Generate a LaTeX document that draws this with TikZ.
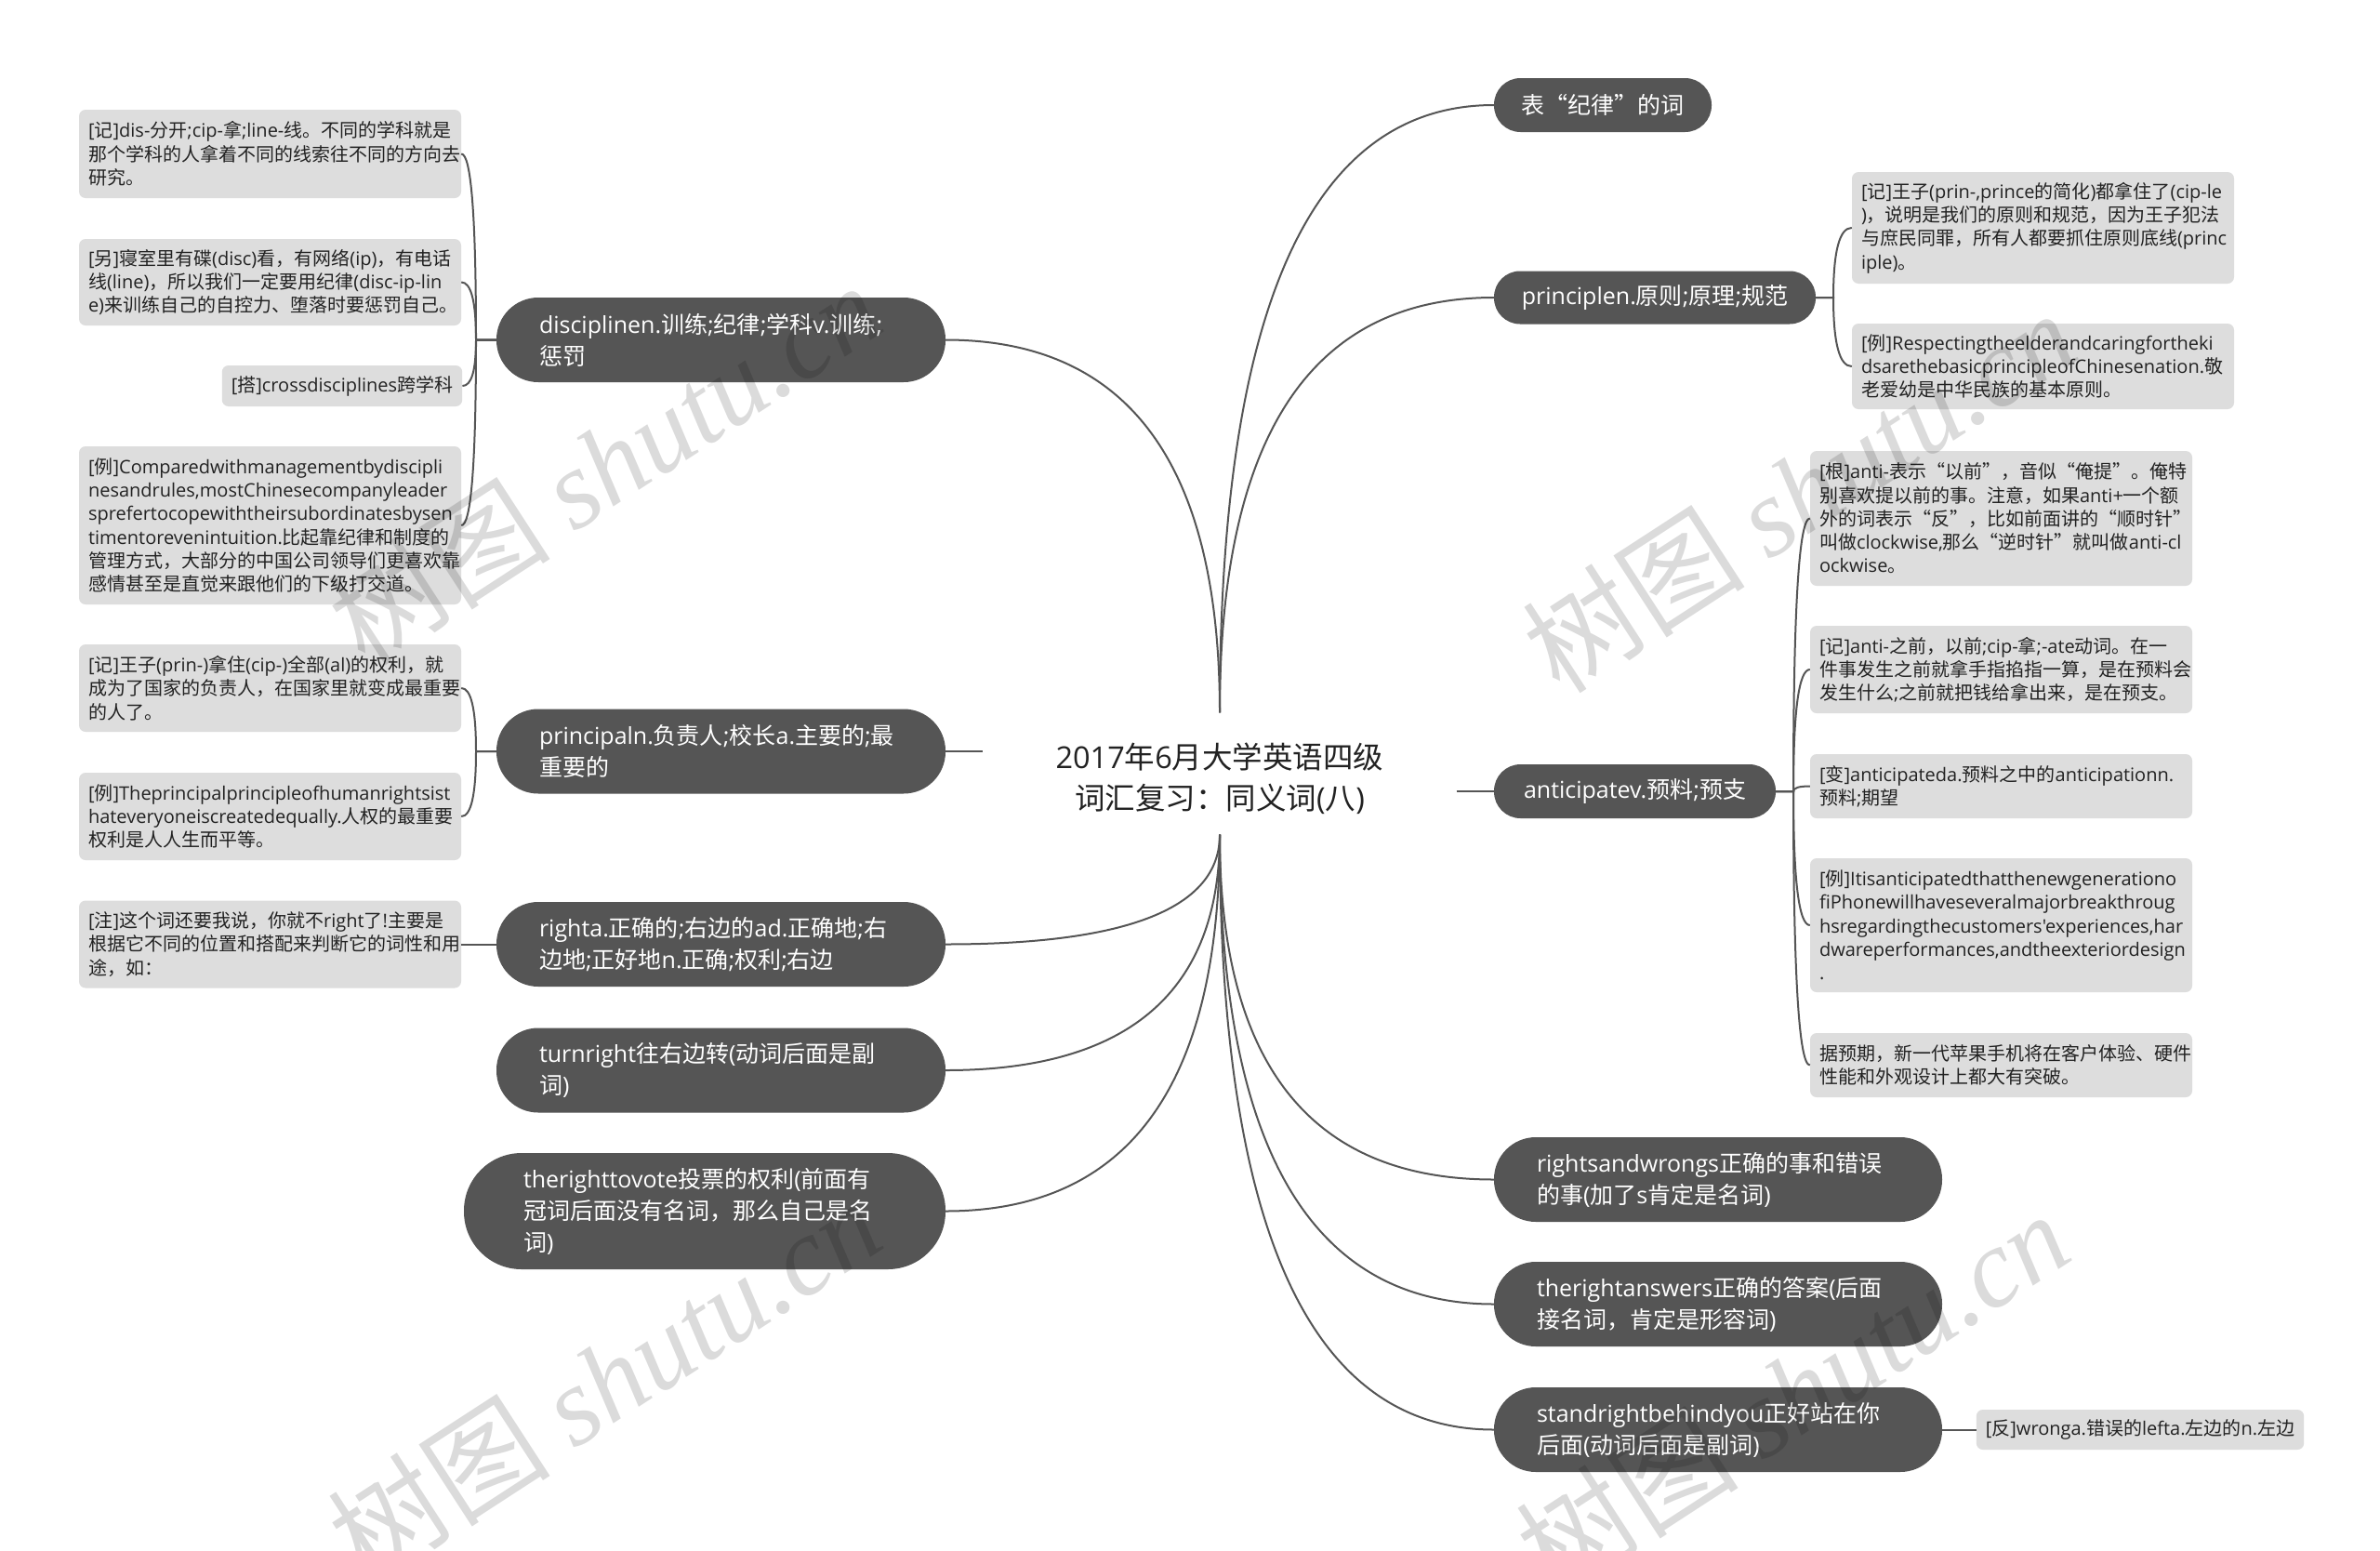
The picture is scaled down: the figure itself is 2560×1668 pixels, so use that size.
\documentclass[tikz,border=0pt]{standalone}
\usepackage{fontspec}
\setmainfont{Noto Sans CJK SC}
\newfontfamily\cjkf{Noto Sans CJK SC}
\newfontfamily\latf{Open Sans}
\newfontfamily\wmserif{Liberation Serif}
\usetikzlibrary{calc}
\newcount\cjkcnt
\cjkcnt="4E00
\loop\ifnum\cjkcnt<"A000 \XeTeXcharclass\cjkcnt=1 \advance\cjkcnt by 1 \repeat
\cjkcnt="3000
\loop\ifnum\cjkcnt<"3040 \XeTeXcharclass\cjkcnt=1 \advance\cjkcnt by 1 \repeat
\cjkcnt="FF00
\loop\ifnum\cjkcnt<"FFF0 \XeTeXcharclass\cjkcnt=1 \advance\cjkcnt by 1 \repeat
\XeTeXcharclass"201C=1
\XeTeXcharclass"201D=1
\XeTeXinterchartokenstate=1
\XeTeXinterchartoks 0 1 = {\cjkf}
\XeTeXinterchartoks 4095 1 = {\cjkf}
\XeTeXinterchartoks 1 0 = {\latf}
\XeTeXinterchartoks 4095 0 = {\latf}
\definecolor{pillc}{HTML}{555555}
\definecolor{notec}{HTML}{DDDDDD}
\definecolor{linec}{HTML}{555555}
\definecolor{txtc}{HTML}{222222}
\newcommand\qcurve[2]{\draw[conn] (#1) .. controls ($(#1)!0.6667!(#1 |- #2)$) and ($(#2)!0.6667!(#1 |- #2)$) .. (#2);}
\newcommand\brk[3]{\draw[conn] (#1) -- (#2 |- #1) .. controls ($(#2 |- #1)!0.6667!(#2 |- #3)$) and ($(#3)!0.6667!(#2 |- #3)$) .. (#3);}
\newcommand\wmtext{\XeTeXinterchartokenstate=0\relax\fontsize{120}{130}\selectfont{\cjkf 树图} {\wmserif\itshape shutu.cn}}
\tikzset{
  pill/.style={fill=pillc, text=white, font=\fontsize{25}{34}\selectfont, inner ysep=0pt},
  note/.style={fill=notec, text=txtc, rounded corners=7pt, font=\fontsize{20}{25.3}\selectfont, inner ysep=0pt, inner xsep=10pt},
  conn/.style={draw=linec, line width=2pt},
  title/.style={text=txtc, font=\fontsize{32.5}{44}\selectfont, inner sep=0pt},
  wm/.style={text=black, text opacity=0.14, inner sep=0pt, rotate=33}
}
\begin{document}
\begin{tikzpicture}[x=1pt,y=-1pt]
\useasboundingbox (0,0) rectangle (2560,1668);
\fill[white] (0,0) rectangle (2560,1668);

% centre
\node[title, minimum width=509pt, minimum height=131pt, align=center] (c) at (1312,832) {\parbox{509pt}{\centering\vspace*{10pt}2017年6月大学英语四级\\词汇复习：同义词(八)}};

% left main branches
\node[pill, text width=391pt, inner xsep=46pt, minimum height=91pt, rounded corners=45pt, align=left] (disc) at (775.5,365.5) {disciplinen.训练;纪律;学科v.训练;\\惩罚};
\node[pill, text width=391pt, inner xsep=46pt, minimum height=91pt, rounded corners=45pt, align=left] (principal) at (775.5,808) {principaln.负责人;校长a.主要的;最\\重要的};
\node[pill, text width=391pt, inner xsep=46pt, minimum height=91pt, rounded corners=45pt, align=left] (righta) at (775.5,1015.5) {righta.正确的;右边的ad.正确地;右\\边地;正好地n.正确;权利;右边};
\node[pill, text width=391pt, inner xsep=46pt, minimum height=91pt, rounded corners=45pt, align=left] (turnright) at (775.5,1151) {turnright往右边转(动词后面是副\\词)};
\node[pill, text width=390pt, inner xsep=64pt, minimum height=125pt, rounded corners=62pt, align=left] (trv) at (758,1302.5) {therighttovote投票的权利(前面有\\冠词后面没有名词，那么自己是名\\词)};

% right main branches
\node[pill, minimum width=234pt, minimum height=58pt, rounded corners=28.5pt, inner xsep=0pt, align=center] (j1) at (1724,113) {表“纪律”的词};
\node[pill, minimum width=346pt, minimum height=57pt, rounded corners=28pt, inner xsep=0pt, align=center] (pr) at (1780,320) {principlen.原则;原理;规范};
\node[pill, minimum width=303pt, minimum height=58pt, rounded corners=28.5pt, inner xsep=0pt, align=center] (an) at (1758.5,851) {anticipatev.预料;预支};
\node[pill, text width=390pt, inner xsep=46pt, minimum height=91pt, rounded corners=45pt, align=left] (rw) at (1848,1268.5) {rightsandwrongs正确的事和错误\\的事(加了s肯定是名词)};
\node[pill, text width=390pt, inner xsep=46pt, minimum height=91pt, rounded corners=45pt, align=left] (tra) at (1848,1402.5) {therightanswers正确的答案(后面\\接名词，肯定是形容词)};
\node[pill, text width=390pt, inner xsep=46pt, minimum height=91pt, rounded corners=45pt, align=left] (sr) at (1848,1537.5) {standrightbehindyou正好站在你\\后面(动词后面是副词)};

% left notes
\node[note, text width=391pt, minimum height=95pt, align=left] (d1) at (290.5,165.5) {[记]dis-分开;cip-拿;line-线。不同的学科就是\\那个学科的人拿着不同的线索往不同的方向去\\研究。};
\node[note, text width=391pt, minimum height=93pt, align=left] (d2) at (290.5,303.5) {[另]寝室里有碟(disc)看，有网络(ip)，有电话\\线(line)，所以我们一定要用纪律(disc-ip-lin\\e)来训练自己的自控力、堕落时要惩罚自己。};
\node[note, minimum width=256pt, minimum height=44pt, align=center] (d3) at (368,415) {[搭]crossdisciplines跨学科};
\node[note, text width=391pt, minimum height=170pt, align=left] (d4) at (290.5,565) {[例]Comparedwithmanagementbydiscipli\\nesandrules,mostChinesecompanyleader\\sprefertocopewiththeirsubordinatesbysen\\timentorevenintuition.比起靠纪律和制度的\\管理方式，大部分的中国公司领导们更喜欢靠\\感情甚至是直觉来跟他们的下级打交道。};
\node[note, text width=391pt, minimum height=94pt, align=left] (p1) at (290.5,740) {[记]王子(prin-)拿住(cip-)全部(al)的权利，就\\成为了国家的负责人，在国家里就变成最重要\\的人了。};
\node[note, text width=391pt, minimum height=94pt, align=left] (p2) at (290.5,878) {[例]Theprincipalprincipleofhumanrightsist\\hateveryoneiscreatedequally.人权的最重要\\权利是人人生而平等。};
\node[note, text width=391pt, minimum height=94pt, align=left] (r1) at (290.5,1015.5) {[注]这个词还要我说，你就不right了!主要是\\根据它不同的位置和搭配来判断它的词性和用\\途，如：};

% right notes
\node[note, text width=391pt, minimum height=120pt, align=left] (pr1) at (2197.5,245) {[记]王子(prin-,prince的简化)都拿住了(cip-le\\)，说明是我们的原则和规范，因为王子犯法\\与庶民同罪，所有人都要抓住原则底线(princ\\iple)。};
\node[note, text width=391pt, minimum height=92pt, align=left] (pr2) at (2197.5,394) {[例]Respectingtheelderandcaringfortheki\\dsarethebasicprincipleofChinesenation.敬\\老爱幼是中华民族的基本原则。};
\node[note, text width=391pt, minimum height=145pt, align=left] (a1) at (2152.5,557.5) {[根]anti-表示“以前”，音似“俺提”。俺特\\别喜欢提以前的事。注意，如果anti+一个额\\外的词表示“反”，比如前面讲的“顺时针”\\叫做clockwise,那么“逆时针”就叫做anti-cl\\ockwise。};
\node[note, text width=391pt, minimum height=94pt, align=left] (a2) at (2152.5,720) {[记]anti-之前，以前;cip-拿;-ate动词。在一\\件事发生之前就拿手指掐指一算，是在预料会\\发生什么;之前就把钱给拿出来，是在预支。};
\node[note, text width=391pt, minimum height=69pt, align=left] (a3) at (2152.5,845.5) {[变]anticipateda.预料之中的anticipationn.\\预料;期望};
\node[note, text width=391pt, minimum height=144pt, align=left] (a4) at (2152.5,995) {[例]Itisanticipatedthatthenewgenerationo\\fiPhonewillhaveseveralmajorbreakthroug\\hsregardingthecustomers{\char"27}experiences,har\\dwareperformances,andtheexteriordesign\\.};
\node[note, text width=391pt, minimum height=69pt, align=left] (a5) at (2152.5,1145.5) {据预期，新一代苹果手机将在客户体验、硬件\\性能和外观设计上都大有突破。};
\node[note, minimum width=348pt, minimum height=43pt, align=center] (sr1) at (2302,1537.5) {[反]wronga.错误的lefta.左边的n.左边};

% bracket x positions
\coordinate (xl) at (512,0);
\coordinate (xp) at (1972,0);
\coordinate (xa) at (1929,0);

% main connectors
\qcurve{c.north}{disc.east}
\qcurve{c.north}{j1.west}
\qcurve{c.north}{pr.west}
\qcurve{c.south}{righta.east}
\qcurve{c.south}{turnright.east}
\qcurve{c.south}{trv.east}
\qcurve{c.south}{rw.west}
\qcurve{c.south}{tra.west}
\qcurve{c.south}{sr.west}
\draw[conn] (principal.east) -- (c.west |- principal.east);
\draw[conn] (c.east |- an.west) -- (an.west);

% note connectors
\brk{disc.west}{xl}{d1.east}
\brk{disc.west}{xl}{d2.east}
\brk{disc.west}{xl}{d3.east}
\brk{disc.west}{xl}{d4.east}
\brk{principal.west}{xl}{p1.east}
\brk{principal.west}{xl}{p2.east}
\draw[conn] (righta.west) -- (r1.east);
\brk{pr.east}{xp}{pr1.west}
\brk{pr.east}{xp}{pr2.west}
\brk{an.east}{xa}{a1.west}
\brk{an.east}{xa}{a2.west}
\brk{an.east}{xa}{a3.west}
\brk{an.east}{xa}{a4.west}
\brk{an.east}{xa}{a5.west}
\draw[conn] (sr.east) -- (sr1.west);

% watermarks
\node[wm] (w1) at (650,498) {\wmtext};
\node[wm] (w2) at (1935,528) {\wmtext};
\node[wm] (w3) at (650,1484) {\wmtext};
\node[wm] (w4) at (1928,1497) {\wmtext};
\end{tikzpicture}
\end{document}
